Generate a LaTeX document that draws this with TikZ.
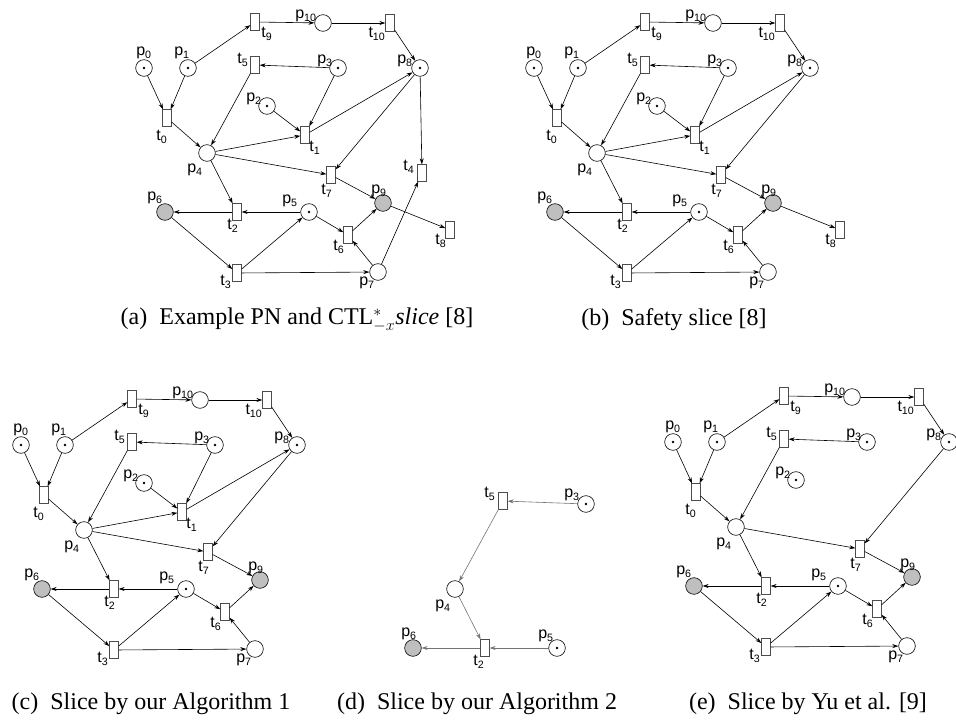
\documentclass[tikz,border=0pt]{standalone}
\usepackage{fontspec}
\setmainfont{Liberation Serif}
\setsansfont{Liberation Sans}
\usetikzlibrary{arrows.meta}

\tikzset{
  place/.style={circle, draw, minimum size=12.5pt, inner sep=0pt, line width=0.45pt},
  marked/.style={place, path picture={\fill (path picture bounding box.center) circle (1.1pt);}},
  dead/.style={place, fill=black!25},
  trans/.style={rectangle, draw=black!70, fill=white, minimum width=6.5pt, minimum height=12.5pt, inner sep=0pt, line width=0.45pt},
  lbl/.style={font=\sffamily\fontsize{12}{13}\selectfont, inner sep=0pt},
  capt/.style={font=\fontsize{18}{20}\selectfont, inner sep=0pt},
}

\begin{document}
\begin{tikzpicture}[x=0.75pt, y=-0.75pt, >={Stealth[length=4.5pt,width=3pt]},
    every edge/.style={draw, ->, line width=0.45pt}]
  \useasboundingbox (0,0) rectangle (956,720);

  % (a) example net
  \begin{scope}[name prefix=a-]
    \node[trans]  (t9)  at (255,22)  {}; \node[lbl] (lt9)  at (267,34)  {t\textsubscript{9}};
    \node[place]  (p10) at (323,23)  {}; \node[lbl] (lp10) at (306,16)  {p\textsubscript{10}};
    \node[trans]  (t10) at (390,23)  {}; \node[lbl] (lt10) at (377,34)  {t\textsubscript{10}};
    \node[marked] (p0)  at (144,68)  {}; \node[lbl] (lp0)  at (144,53)  {p\textsubscript{0}};
    \node[marked] (p1)  at (188,68)  {}; \node[lbl] (lp1)  at (182,53)  {p\textsubscript{1}};
    \node[trans]  (t5)  at (255,65)  {}; \node[lbl] (lt5)  at (243,60)  {t\textsubscript{5}};
    \node[marked] (p3)  at (338,68)  {}; \node[lbl] (lp3)  at (325,61)  {p\textsubscript{3}};
    \node[marked] (p8)  at (420,68)  {}; \node[lbl] (lp8)  at (405,61)  {p\textsubscript{8}};
    \node[marked] (p2)  at (267,106) {}; \node[lbl] (lp2)  at (254,99)  {p\textsubscript{2}};
    \node[trans]  (t0)  at (167,118) {}; \node[lbl] (lt0)  at (162,137) {t\textsubscript{0}};
    \node[trans]  (t1)  at (305,135) {}; \node[lbl] (lt1)  at (315,148) {t\textsubscript{1}};
    \node[place]  (p4)  at (207,153) {}; \node[lbl] (lp4)  at (195,170) {p\textsubscript{4}};
    \node[trans]  (t7)  at (331,175) {}; \node[lbl] (lt7)  at (327,191) {t\textsubscript{7}};
    \node[trans]  (t4)  at (422,173) {}; \node[lbl] (lt4)  at (409,167) {t\textsubscript{4}};
    \node[dead]   (p6)  at (165,212) {}; \node[lbl] (lp6)  at (155,198) {p\textsubscript{6}};
    \node[trans]  (t2)  at (237,212) {}; \node[lbl] (lt2)  at (233,226) {t\textsubscript{2}};
    \node[marked] (p5)  at (309,212) {}; \node[lbl] (lp5)  at (290,201) {p\textsubscript{5}};
    \node[dead]   (p9)  at (383,203) {}; \node[lbl] (lp9)  at (379,191) {p\textsubscript{9}};
    \node[trans]  (t8)  at (450,230) {}; \node[lbl] (lt8)  at (441,241) {t\textsubscript{8}};
    \node[trans]  (t6)  at (348,235) {}; \node[lbl] (lt6)  at (339,247) {t\textsubscript{6}};
    \node[trans]  (t3)  at (237,273) {}; \node[lbl] (lt3)  at (226,282) {t\textsubscript{3}};
    \node[place]  (p7)  at (378,272) {}; \node[lbl] (lp7)  at (367,283) {p\textsubscript{7}};

    \path (p1) edge (t9) edge (t0);
    \path (t9) edge (p10);
    \path (p10) edge (t10);
    \path (t10) edge (p8);
    \path (p0) edge (t0);
    \path (t0) edge (p4);
    \path (p3) edge (t5) edge (t1);
    \path (t5) edge (p4);
    \path (p2) edge (t1);
    \path (p4) edge (t1) edge (t7) edge (t2);
    \path (t1) edge (p8);
    \path (p8) edge (t7) edge (t4);
    \path (t7) edge (p9);
    \path (p5) edge (t2) edge (t6);
    \path (t2) edge (p6);
    \path (p6) edge (t3);
    \path (t3) edge (p5) edge (p7);
    \path (p7) edge (t6) edge (t4);
    \path (t6) edge (p9);
    \path (p9) edge (t8);
  \end{scope}

  % (b) safety slice
  \begin{scope}[shift={(390,0)}, name prefix=b-]
    \node[trans]  (t9)  at (255,22)  {}; \node[lbl] (lt9)  at (267,34)  {t\textsubscript{9}};
    \node[place]  (p10) at (323,23)  {}; \node[lbl] (lp10) at (306,16)  {p\textsubscript{10}};
    \node[trans]  (t10) at (390,23)  {}; \node[lbl] (lt10) at (377,34)  {t\textsubscript{10}};
    \node[marked] (p0)  at (144,68)  {}; \node[lbl] (lp0)  at (144,53)  {p\textsubscript{0}};
    \node[marked] (p1)  at (188,68)  {}; \node[lbl] (lp1)  at (182,53)  {p\textsubscript{1}};
    \node[trans]  (t5)  at (255,65)  {}; \node[lbl] (lt5)  at (243,60)  {t\textsubscript{5}};
    \node[marked] (p3)  at (338,68)  {}; \node[lbl] (lp3)  at (325,61)  {p\textsubscript{3}};
    \node[marked] (p8)  at (420,68)  {}; \node[lbl] (lp8)  at (405,61)  {p\textsubscript{8}};
    \node[marked] (p2)  at (267,106) {}; \node[lbl] (lp2)  at (254,99)  {p\textsubscript{2}};
    \node[trans]  (t0)  at (167,118) {}; \node[lbl] (lt0)  at (162,137) {t\textsubscript{0}};
    \node[trans]  (t1)  at (305,135) {}; \node[lbl] (lt1)  at (315,148) {t\textsubscript{1}};
    \node[place]  (p4)  at (207,153) {}; \node[lbl] (lp4)  at (195,170) {p\textsubscript{4}};
    \node[trans]  (t7)  at (331,175) {}; \node[lbl] (lt7)  at (327,191) {t\textsubscript{7}};
    \node[dead]   (p6)  at (165,212) {}; \node[lbl] (lp6)  at (155,198) {p\textsubscript{6}};
    \node[trans]  (t2)  at (237,212) {}; \node[lbl] (lt2)  at (233,226) {t\textsubscript{2}};
    \node[marked] (p5)  at (309,212) {}; \node[lbl] (lp5)  at (290,201) {p\textsubscript{5}};
    \node[dead]   (p9)  at (383,203) {}; \node[lbl] (lp9)  at (379,191) {p\textsubscript{9}};
    \node[trans]  (t8)  at (450,230) {}; \node[lbl] (lt8)  at (441,241) {t\textsubscript{8}};
    \node[trans]  (t6)  at (348,235) {}; \node[lbl] (lt6)  at (339,247) {t\textsubscript{6}};
    \node[trans]  (t3)  at (237,273) {}; \node[lbl] (lt3)  at (226,282) {t\textsubscript{3}};
    \node[place]  (p7)  at (378,272) {}; \node[lbl] (lp7)  at (367,283) {p\textsubscript{7}};

    \path (p1) edge (t9) edge (t0);
    \path (t9) edge (p10);
    \path (p10) edge (t10);
    \path (t10) edge (p8);
    \path (p0) edge (t0);
    \path (t0) edge (p4);
    \path (p3) edge (t5) edge (t1);
    \path (t5) edge (p4);
    \path (p2) edge (t1);
    \path (p4) edge (t1) edge (t7) edge (t2);
    \path (t1) edge (p8);
    \path (p8) edge (t7);
    \path (t7) edge (p9);
    \path (p5) edge (t2) edge (t6);
    \path (t2) edge (p6);
    \path (p6) edge (t3);
    \path (t3) edge (p5) edge (p7);
    \path (p7) edge (t6);
    \path (t6) edge (p9);
    \path (p9) edge (t8);
  \end{scope}

  % (c) algorithm 1
  \begin{scope}[shift={(-123,377)}, name prefix=c-]
    \node[trans]  (t9)  at (255,22)  {}; \node[lbl] (lt9)  at (267,34)  {t\textsubscript{9}};
    \node[place]  (p10) at (323,23)  {}; \node[lbl] (lp10) at (306,16)  {p\textsubscript{10}};
    \node[trans]  (t10) at (390,23)  {}; \node[lbl] (lt10) at (377,34)  {t\textsubscript{10}};
    \node[marked] (p0)  at (144,68)  {}; \node[lbl] (lp0)  at (144,53)  {p\textsubscript{0}};
    \node[marked] (p1)  at (188,68)  {}; \node[lbl] (lp1)  at (182,53)  {p\textsubscript{1}};
    \node[trans]  (t5)  at (255,65)  {}; \node[lbl] (lt5)  at (243,60)  {t\textsubscript{5}};
    \node[marked] (p3)  at (338,68)  {}; \node[lbl] (lp3)  at (325,61)  {p\textsubscript{3}};
    \node[marked] (p8)  at (420,68)  {}; \node[lbl] (lp8)  at (405,61)  {p\textsubscript{8}};
    \node[marked] (p2)  at (267,106) {}; \node[lbl] (lp2)  at (254,99)  {p\textsubscript{2}};
    \node[trans]  (t0)  at (167,118) {}; \node[lbl] (lt0)  at (162,137) {t\textsubscript{0}};
    \node[trans]  (t1)  at (305,135) {}; \node[lbl] (lt1)  at (315,148) {t\textsubscript{1}};
    \node[place]  (p4)  at (207,153) {}; \node[lbl] (lp4)  at (195,170) {p\textsubscript{4}};
    \node[trans]  (t7)  at (331,175) {}; \node[lbl] (lt7)  at (327,191) {t\textsubscript{7}};
    \node[dead]   (p6)  at (165,212) {}; \node[lbl] (lp6)  at (155,198) {p\textsubscript{6}};
    \node[trans]  (t2)  at (237,212) {}; \node[lbl] (lt2)  at (233,226) {t\textsubscript{2}};
    \node[marked] (p5)  at (309,212) {}; \node[lbl] (lp5)  at (290,201) {p\textsubscript{5}};
    \node[dead]   (p9)  at (383,203) {}; \node[lbl] (lp9)  at (379,191) {p\textsubscript{9}};
    \node[trans]  (t6)  at (348,235) {}; \node[lbl] (lt6)  at (339,247) {t\textsubscript{6}};
    \node[trans]  (t3)  at (237,273) {}; \node[lbl] (lt3)  at (226,282) {t\textsubscript{3}};
    \node[place]  (p7)  at (378,272) {}; \node[lbl] (lp7)  at (367,283) {p\textsubscript{7}};

    \path (p1) edge (t9) edge (t0);
    \path (t9) edge (p10);
    \path (p10) edge (t10);
    \path (t10) edge (p8);
    \path (p0) edge (t0);
    \path (t0) edge (p4);
    \path (p3) edge (t5) edge (t1);
    \path (t5) edge (p4);
    \path (p2) edge (t1);
    \path (p4) edge (t1) edge (t7) edge (t2);
    \path (t1) edge (p8);
    \path (p8) edge (t7);
    \path (t7) edge (p9);
    \path (p5) edge (t2) edge (t6);
    \path (t2) edge (p6);
    \path (p6) edge (t3);
    \path (t3) edge (p5) edge (p7);
    \path (p7) edge (t6);
    \path (t6) edge (p9);
  \end{scope}

  % (d) algorithm 2
  \begin{scope}[shift={(248,436)}, name prefix=d-, every edge/.append style={draw=black!55}]
    \node[trans]  (t5)  at (255,65)  {}; \node[lbl] (lt5)  at (242,58)  {t\textsubscript{5}};
    \node[marked] (p3)  at (338,68)  {}; \node[lbl] (lp3)  at (324,59)  {p\textsubscript{3}};
    \node[place]  (p4)  at (207,153) {}; \node[lbl] (lp4)  at (195,170) {p\textsubscript{4}};
    \node[dead]   (p6)  at (165,212) {}; \node[lbl] (lp6)  at (161,198) {p\textsubscript{6}};
    \node[trans]  (t2)  at (237,212) {}; \node[lbl] (lt2)  at (231,226) {t\textsubscript{2}};
    \node[marked] (p5)  at (309,212) {}; \node[lbl] (lp5)  at (298,200) {p\textsubscript{5}};

    \path (p3) edge (t5);
    \path (t5) edge (p4);
    \path (p4) edge (t2);
    \path (p5) edge (t2);
    \path (t2) edge (p6);
  \end{scope}

  % (e) Yu et al.
  \begin{scope}[shift={(529,374)}, name prefix=e-]
    \node[trans]  (t9)  at (255,22)  {}; \node[lbl] (lt9)  at (267,34)  {t\textsubscript{9}};
    \node[place]  (p10) at (323,23)  {}; \node[lbl] (lp10) at (306,16)  {p\textsubscript{10}};
    \node[trans]  (t10) at (390,23)  {}; \node[lbl] (lt10) at (377,34)  {t\textsubscript{10}};
    \node[marked] (p0)  at (144,68)  {}; \node[lbl] (lp0)  at (144,53)  {p\textsubscript{0}};
    \node[marked] (p1)  at (188,68)  {}; \node[lbl] (lp1)  at (182,53)  {p\textsubscript{1}};
    \node[trans]  (t5)  at (255,65)  {}; \node[lbl] (lt5)  at (243,60)  {t\textsubscript{5}};
    \node[marked] (p3)  at (338,68)  {}; \node[lbl] (lp3)  at (325,61)  {p\textsubscript{3}};
    \node[marked] (p8)  at (420,68)  {}; \node[lbl] (lp8)  at (405,61)  {p\textsubscript{8}};
    \node[marked] (p2)  at (267,106) {}; \node[lbl] (lp2)  at (254,99)  {p\textsubscript{2}};
    \node[trans]  (t0)  at (167,118) {}; \node[lbl] (lt0)  at (162,137) {t\textsubscript{0}};
    \node[place]  (p4)  at (207,153) {}; \node[lbl] (lp4)  at (195,170) {p\textsubscript{4}};
    \node[trans]  (t7)  at (331,175) {}; \node[lbl] (lt7)  at (327,191) {t\textsubscript{7}};
    \node[dead]   (p6)  at (165,212) {}; \node[lbl] (lp6)  at (155,198) {p\textsubscript{6}};
    \node[trans]  (t2)  at (237,212) {}; \node[lbl] (lt2)  at (233,226) {t\textsubscript{2}};
    \node[marked] (p5)  at (309,212) {}; \node[lbl] (lp5)  at (290,201) {p\textsubscript{5}};
    \node[dead]   (p9)  at (383,203) {}; \node[lbl] (lp9)  at (379,191) {p\textsubscript{9}};
    \node[trans]  (t6)  at (348,235) {}; \node[lbl] (lt6)  at (339,247) {t\textsubscript{6}};
    \node[trans]  (t3)  at (237,273) {}; \node[lbl] (lt3)  at (226,282) {t\textsubscript{3}};
    \node[place]  (p7)  at (378,272) {}; \node[lbl] (lp7)  at (367,283) {p\textsubscript{7}};

    \path (p1) edge (t9) edge (t0);
    \path (t9) edge (p10);
    \path (p10) edge (t10);
    \path (t10) edge (p8);
    \path (p0) edge (t0);
    \path (t0) edge (p4);
    \path (p3) edge (t5);
    \path (t5) edge (p4);
    \path (p4) edge (t7) edge (t2);
    \path (p8) edge (t7);
    \path (t7) edge (p9);
    \path (p5) edge (t2) edge (t6);
    \path (t2) edge (p6);
    \path (p6) edge (t3);
    \path (t3) edge (p5) edge (p7);
    \path (p7) edge (t6);
    \path (t6) edge (p9);
  \end{scope}

  % captions
  \node[capt] (capa) at (297,320) {(a)\enspace Example PN and CTL$^{*}_{-x}$\textit{slice} [8]};
  \node[capt] (capb) at (674,320) {(b)\enspace Safety slice [8]};
  \node[capt] (capc) at (151,704) {(c)\enspace Slice by our Algorithm 1};
  \node[capt] (capd) at (477,704) {(d)\enspace Slice by our Algorithm 2};
  \node[capt] (cape) at (808,704) {(e)\enspace Slice by Yu et al. [9]};
\end{tikzpicture}
\end{document}
